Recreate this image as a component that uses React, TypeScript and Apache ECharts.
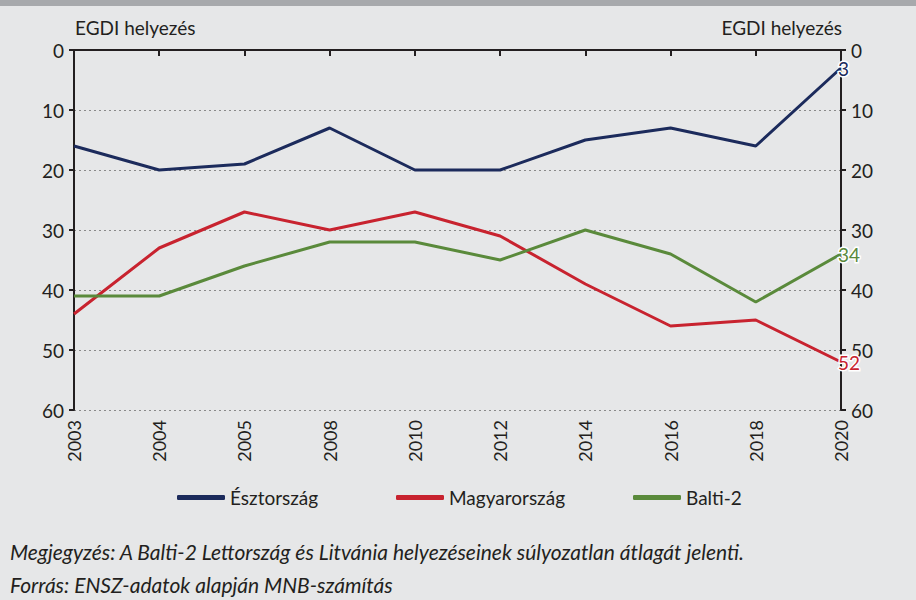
import React, { useEffect, useRef } from "react";
import * as echarts from "echarts";

const years = ["2003", "2004", "2005", "2008", "2010", "2012", "2014", "2016", "2018", "2020"];
const estonia = [16, 20, 19, 13, 20, 20, 15, 13, 16, 3];
const hungary = [44, 33, 27, 30, 27, 31, 39, 46, 45, 52];
const baltic2 = [41, 41, 36, 32, 32, 35, 30, 34, 42, 34];
const yTicks = [0, 10, 20, 30, 40, 50, 60];

const seriesNames = ["Észtország", "Magyarország", "Balti-2"];
const seriesColors = ["#1c2b5c", "#c8232f", "#5a8a3b"];
const FONT = "Lato";
const TEXT = "#231f20";

export default function App() {
  const ref = useRef<HTMLDivElement>(null);
  useEffect(() => {
    if (!ref.current) return;
    const chart = echarts.init(ref.current, undefined, { renderer: "svg" });
    const yAxisBase = (pos: "left" | "right") => ({
      type: "value",
      position: pos,
      inverse: true,
      min: yTicks[0],
      max: yTicks[yTicks.length - 1],
      interval: 10,
      axisLine: { show: true, lineStyle: { color: TEXT, width: 2 } },
      axisTick: { show: true, length: 5, lineStyle: { color: TEXT, width: 2 } },
      axisLabel: { color: TEXT, fontFamily: FONT, fontSize: 19, margin: 10 },
      splitLine: pos === "left" ? { show: true, lineStyle: { color: "#8a8a8a", type: [2, 3], width: 1 } } : { show: false },
    });
    const datasets = [estonia, hungary, baltic2];
    const legendLefts = [177, 396, 633];
    chart.setOption({
      animation: false,
      backgroundColor: "#e6e7e8",
      textStyle: { fontFamily: FONT },
      grid: { left: 74, right: 75, top: 50, bottom: 190, containLabel: false },
      xAxis: {
        type: "category",
        data: years,
        boundaryGap: false,
        axisLine: { show: true, lineStyle: { color: TEXT, width: 2 } },
        axisTick: { show: true, alignWithLabel: true, length: 6, lineStyle: { color: TEXT, width: 2 } },
        axisLabel: { color: TEXT, fontFamily: FONT, fontSize: 18, rotate: 90, margin: 10, interval: 0 },
        splitLine: { show: false },
      },
      yAxis: [yAxisBase("left"), yAxisBase("right")],
      legend: seriesNames.map((n, i) => ({
        data: [n],
        left: legendLefts[i],
        top: 488,
        icon: "roundRect",
        itemWidth: 48,
        itemHeight: 5,
        itemGap: 8,
        padding: 0,
        textStyle: { color: TEXT, fontFamily: FONT, fontSize: 19 },
      })),
      series: seriesNames.map((n, i) => ({
        name: n,
        type: "line",
        data: datasets[i],
        yAxisIndex: 0,
        showSymbol: false,
        symbol: "none",
        lineStyle: { color: seriesColors[i], width: 3 },
        itemStyle: { color: seriesColors[i] },
        endLabel: {
          show: true,
          formatter: "{c}",
          color: seriesColors[i],
          fontFamily: FONT,
          fontSize: 19,
          lineHeight: 17,
          textBorderColor: "#ffffff",
          textBorderWidth: 3,
          distance: -3,
        },
      })),
      graphic: [
        { type: "rect", shape: { x: 0, y: 0, width: 916, height: 6 }, style: { fill: "#a7a9ac" }, silent: true },
        { type: "text", left: 75, top: 18, style: { text: "EGDI helyezés", fill: TEXT, fontFamily: FONT, fontSize: 19 } },
        { type: "text", right: 74, top: 18, style: { text: "EGDI helyezés", fill: TEXT, fontFamily: FONT, fontSize: 19 } },
        {
          type: "text",
          left: 10,
          top: 541,
          style: {
            text: "Megjegyzés: A Balti-2 Lettország és Litvánia helyezéseinek súlyozatlan átlagát jelenti.",
            fill: TEXT,
            fontFamily: FONT,
            fontStyle: "italic",
            fontSize: 21,
          },
        },
        {
          type: "text",
          left: 10,
          top: 574,
          style: {
            text: "Forrás: ENSZ-adatok alapján MNB-számítás",
            fill: TEXT,
            fontFamily: FONT,
            fontStyle: "italic",
            fontSize: 21,
          },
        },
      ],
    });
    return () => chart.dispose();
  }, []);
  return <div ref={ref} style={{ position: "fixed", left: 0, top: 0, width: 916, height: 600 }} />;
}
